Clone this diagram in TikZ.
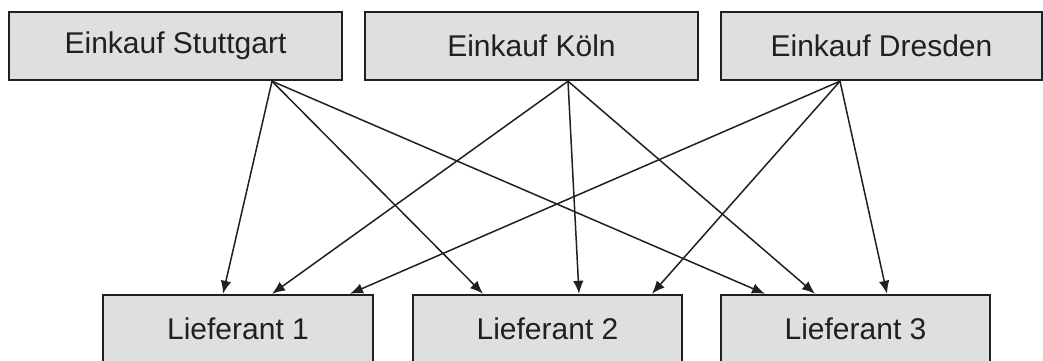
\documentclass[tikz,border=0pt]{standalone}
\usepackage{fontspec}
\setmainfont{Liberation Sans}
\usetikzlibrary{positioning, arrows.meta}

\definecolor{boxgray}{RGB}{222,223,225}
\definecolor{boxline}{RGB}{35,31,32}

\begin{document}
\begin{tikzpicture}[x=1pt, y=-1pt, >={Latex[length=13pt, width=10.5pt]},
        einheit/.style={draw=boxline, fill=boxgray, line width=2.4pt,
            minimum height=68pt, inner sep=0pt,
            font=\fontsize{30}{36}\selectfont, text=boxline},
        pfeil/.style={->, line width=1.5pt, draw=boxline}]
            \useasboundingbox (0,0) rectangle (1043,361);
            \clip (0,0) rectangle (1043,361);

            % Einkauf
            \node[einheit, minimum width=333pt] (stuttgart) at (175.5,46) {Einkauf Stuttgart};
            \node[einheit, minimum width=333pt] (koeln) at (531.5,46) {Einkauf Köln};
            \node[einheit, minimum width=321pt] (dresden) at (881.5,46) {Einkauf Dresden};

            % Lieferanten
            \node[einheit, minimum width=270pt] (lief1) at (238,329) {Lieferant 1};
            \node[einheit, minimum width=269pt] (lief2) at (547.5,329) {Lieferant 2};
            \node[einheit, minimum width=269pt] (lief3) at (855.5,329) {Lieferant 3};

            % von Stuttgart
            \draw[pfeil] ([xshift=96.5pt]stuttgart.south) -- ([xshift=-15pt]lief1.north);
            \draw[pfeil] ([xshift=96.5pt]stuttgart.south) -- ([xshift=-64.5pt]lief2.north);
            \draw[pfeil] ([xshift=96.5pt]stuttgart.south) -- ([xshift=-90.5pt]lief3.north);

            % von Koeln
            \draw[pfeil] ([xshift=36.5pt]koeln.south) -- ([xshift=34pt]lief1.north);
            \draw[pfeil] ([xshift=36.5pt]koeln.south) -- ([xshift=31.5pt]lief2.north);
            \draw[pfeil] ([xshift=36.5pt]koeln.south) -- ([xshift=-40.5pt]lief3.north);

            % von Dresden
            \draw[pfeil] ([xshift=-41.5pt]dresden.south) -- ([xshift=112pt]lief1.north);
            \draw[pfeil] ([xshift=-41.5pt]dresden.south) -- ([xshift=104.5pt]lief2.north);
            \draw[pfeil] ([xshift=-41.5pt]dresden.south) -- ([xshift=31.5pt]lief3.north);
        \end{tikzpicture}
\end{document}
